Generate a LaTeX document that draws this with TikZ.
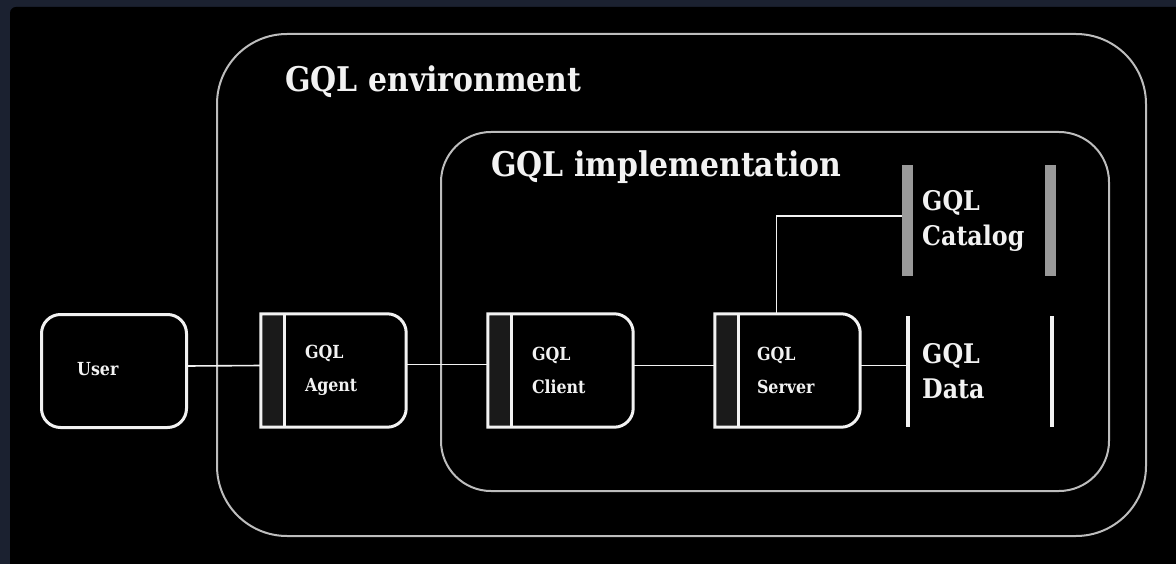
\documentclass[tikz,border=0pt]{standalone}
\usepackage{fontspec}
\setmainfont{DejaVu Serif}[FakeStretch=0.88]
\usepackage{tikz}
\usetikzlibrary{positioning}
\definecolor{framenavy}{HTML}{1B2130}
\definecolor{gqlline}{HTML}{BDBDBD}
\definecolor{gqlwhite}{HTML}{F2F2F2}
\definecolor{gqlstrip}{HTML}{1A1A1A}
\definecolor{gqlbar}{HTML}{999999}

\begin{document}
\begin{tikzpicture}[x=1pt,y=-1pt,
  region/.style={draw=gqlline,line width=2},
  title/.style={text=gqlwhite,font=\bfseries\fontsize{34}{40}\selectfont,
    anchor=base west,inner sep=0},
  userbox/.style={draw=gqlwhite,line width=3,rounded corners=19,
    minimum width=145,minimum height=113},
  procbox/.style={minimum width=145,minimum height=113,inner sep=0},
  proctext/.style={text=gqlwhite,font=\bfseries\fontsize{18}{33}\selectfont,
    align=left,anchor=west,inner sep=0},
  storetext/.style={text=gqlwhite,font=\bfseries\fontsize{27}{35}\selectfont,
    align=left,anchor=west,inner sep=0},
  catbar/.style={fill=gqlbar,minimum width=11,minimum height=111,inner sep=0},
  databar/.style={fill=gqlwhite,minimum width=4,minimum height=111,inner sep=0},
  wire/.style={draw=gqlwhite,line width=1.6}]
  \useasboundingbox (0,0) rectangle (1176,564);
  \fill[framenavy] (0,0) rectangle (1176,564);
  \begin{scope}
    \clip (0,0) rectangle (1176,564);
    \fill[black,rounded corners=6] (10,7) rectangle (1186,574);
  \end{scope}

  % environment and implementation
  \draw[region,rounded corners=70] (217,34) rectangle (1146,536);
  \node[title] (envtitle) at (285,92) {GQL environment};
  \draw[region,rounded corners=50] (441,132) rectangle (1109,491);
  \node[title] (impltitle) at (491,177) {GQL implementation};

  % user and the three processes
  \node[userbox] (user) at (114,371) {};
  \node[proctext] (usertext) at ([xshift=37,yshift=2]user.west) {User};
  \node[procbox] (agent) at (333.5,370.5) {};
  \node[procbox] (client) at (560.5,370.5) {};
  \node[procbox] (server) at (787.5,370.5) {};
  \foreach \n in {agent,client,server}{
    \fill[gqlstrip] (\n.south west) rectangle ([xshift=24]\n.north west);
    \draw[gqlwhite,line width=3] (\n.north) [rounded corners=19]
      -- (\n.north east) -- (\n.south east) -- (\n.south) [sharp corners]
      -- (\n.south west) -- (\n.north west) -- cycle;
    \draw[gqlwhite,line width=3]
      ([xshift=24]\n.north west) -- ([xshift=24]\n.south west);
  }
  \node[proctext] (agenttext) at ([xshift=44]agent.west) {GQL\\Agent};
  \node[proctext] (clienttext) at ([xshift=44]client.west) {GQL\\Client};
  \node[proctext] (servertext) at ([xshift=42]server.west) {GQL\\Server};

  % stores
  \node[catbar] (catleft) at (907.5,221) {};
  \node[catbar] (catright) at (1050.5,221) {};
  \node[storetext] (cattext) at (922,221) {GQL\\Catalog};
  \node[databar] (dataleft) at (908,371.5) {};
  \node[databar] (dataright) at (1052,371.5) {};
  \node[storetext] (datatext) at (922,371.5) {GQL\\Data};

  % connections
  \draw[wire] ([yshift=5]user.east) -- ([yshift=5]agent.west);
  \draw[wire] ([yshift=6]agent.east) -- ([yshift=6]client.west);
  \draw[wire] ([yshift=5]client.east) -- ([yshift=5]server.west);
  \draw[wire] ([yshift=5]server.east) -- ([yshift=5]server.east -| dataleft.west);
  \draw[wire] ([xshift=-11]server.north) |- ([yshift=5]catleft.west);
\end{tikzpicture}
\end{document}
